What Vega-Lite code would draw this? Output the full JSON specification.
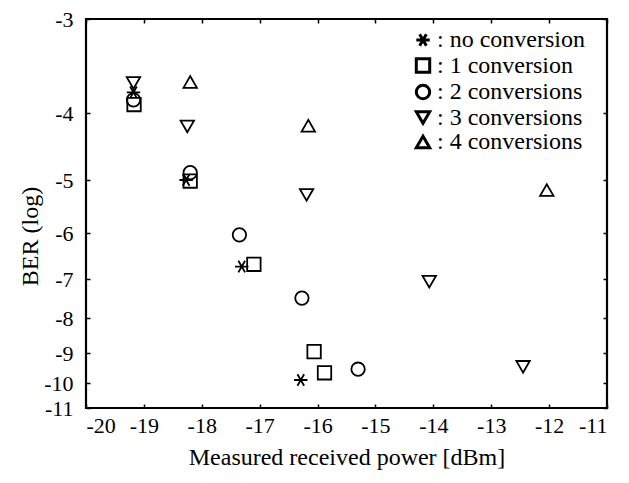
{
  "$schema": "https://vega.github.io/schema/vega-lite/v6.json",
  "width": 521,
  "height": 389,
  "autosize": {"type": "none"},
  "padding": {"left": 86, "top": 19, "right": 22, "bottom": 75},
  "background": "white",
  "config": {
    "view": {"stroke": "black", "strokeWidth": 2.2},
    "font": "Liberation Serif"
  },
  "data": {
    "values": [
      {"series": "no conversion", "power": -19.18, "ber": -3.78},
      {"series": "no conversion", "power": -18.27, "ber": -5.0},
      {"series": "no conversion", "power": -17.31, "ber": -6.73},
      {"series": "no conversion", "power": -16.29, "ber": -9.9},
      {"series": "1 conversion", "power": -19.17, "ber": -3.91},
      {"series": "1 conversion", "power": -18.2, "ber": -5.02},
      {"series": "1 conversion", "power": -17.1, "ber": -6.68},
      {"series": "1 conversion", "power": -16.06, "ber": -8.96},
      {"series": "1 conversion", "power": -15.88, "ber": -9.66},
      {"series": "2 conversions", "power": -19.18, "ber": -3.86},
      {"series": "2 conversions", "power": -18.2, "ber": -4.89},
      {"series": "2 conversions", "power": -17.35, "ber": -6.04},
      {"series": "2 conversions", "power": -16.27, "ber": -7.49},
      {"series": "2 conversions", "power": -15.3, "ber": -9.54},
      {"series": "3 conversions", "power": -19.18, "ber": -3.68},
      {"series": "3 conversions", "power": -18.25, "ber": -4.2},
      {"series": "3 conversions", "power": -16.19, "ber": -5.28},
      {"series": "3 conversions", "power": -14.07, "ber": -7.07},
      {"series": "3 conversions", "power": -12.45, "ber": -9.46},
      {"series": "4 conversions", "power": -18.2, "ber": -3.67},
      {"series": "4 conversions", "power": -16.16, "ber": -4.19},
      {"series": "4 conversions", "power": -12.04, "ber": -5.19}
    ]
  },
  "layer": [
    {
      "mark": {"type": "point", "filled": false, "stroke": "black", "strokeWidth": 1.8, "size": 180, "opacity": 1},
      "encoding": {
        "x": {
          "field": "power", "type": "quantitative",
          "scale": {"domain": [-20, -11], "nice": false, "zero": false},
          "axis": {
            "orient": "bottom",
            "values": [-20, -19, -18, -17, -16, -15, -14, -13, -12, -11],
            "labelExpr": "'' + datum.value", "domain": false, "grid": false,
            "tickSize": -4, "tickColor": "black", "tickWidth": 1.5,
            "labelPadding": 11, "labelFontSize": 22, "labelColor": "black", "labelFont": "Liberation Serif",
            "title": "Measured received power [dBm]", "titleFontSize": 24, "titleFontWeight": "normal",
            "titleColor": "black", "titleFont": "Liberation Serif", "titlePadding": 9
          }
        },
        "y": {
          "field": "ber", "type": "quantitative",
          "scale": {
            "type": "linear",
            "domain": [-11, -10, -9, -8, -7, -6, -5, -4, -3],
            "range": [389, 364, 334, 299, 260, 214, 161, 94, 0],
            "nice": false, "zero": false
          },
          "axis": {
            "orient": "left",
            "values": [-3, -4, -5, -6, -7, -8, -9, -10, -11],
            "labelExpr": "'' + datum.value", "domain": false, "grid": false,
            "tickSize": -4, "tickColor": "black", "tickWidth": 1.5,
            "labelPadding": 17, "labelFontSize": 22, "labelColor": "black", "labelFont": "Liberation Serif",
            "title": "BER (log)", "titleFontSize": 24, "titleFontWeight": "normal",
            "titleColor": "black", "titleFont": "Liberation Serif",
            "titleX": -56, "titleY": 217, "titleAngle": -90, "titleAlign": "center", "titleBaseline": "middle"
          }
        },
        "shape": {
          "field": "series", "type": "nominal",
          "scale": {
            "domain": ["no conversion", "1 conversion", "2 conversions", "3 conversions", "4 conversions"],
            "range": ["M-1,0L1,0M-0.5,-0.866L0.5,0.866M-0.5,0.866L0.5,-0.866", "square", "circle", "triangle-down", "triangle-up"]
          },
          "legend": {
            "orient": "none", "legendX": 325, "legendY": 9,
            "title": null, "padding": 0,
            "symbolSize": 180, "symbolStrokeWidth": 3, "symbolStrokeColor": "black", "symbolFillColor": "white",
            "labelExpr": "': ' + datum.label",
            "labelFont": "Liberation Serif", "labelFontSize": 24, "labelColor": "black", "labelOffset": 2,
            "rowPadding": 0.5
          }
        }
      }
    },
    {
      "mark": {"type": "point", "opacity": 0},
      "encoding": {
        "x": {
          "field": "power", "type": "quantitative",
          "scale": {"domain": [-20, -11], "nice": false, "zero": false},
          "axis": {
            "orient": "top",
            "values": [-20, -19, -18, -17, -16, -15, -14, -13, -12, -11],
            "labels": false, "domain": false, "grid": false, "title": null,
            "tickSize": -4, "tickColor": "black", "tickWidth": 1.5
          }
        },
        "y": {
          "field": "ber", "type": "quantitative",
          "scale": {
            "type": "linear",
            "domain": [-11, -10, -9, -8, -7, -6, -5, -4, -3],
            "range": [389, 364, 334, 299, 260, 214, 161, 94, 0],
            "nice": false, "zero": false
          },
          "axis": {
            "orient": "right",
            "values": [-3, -4, -5, -6, -7, -8, -9, -10, -11],
            "labels": false, "domain": false, "grid": false, "title": null,
            "tickSize": -4, "tickColor": "black", "tickWidth": 1.5
          }
        }
      }
    }
  ],
  "resolve": {"scale": {"x": "independent", "y": "independent"}, "axis": {"x": "independent", "y": "independent"}}
}
